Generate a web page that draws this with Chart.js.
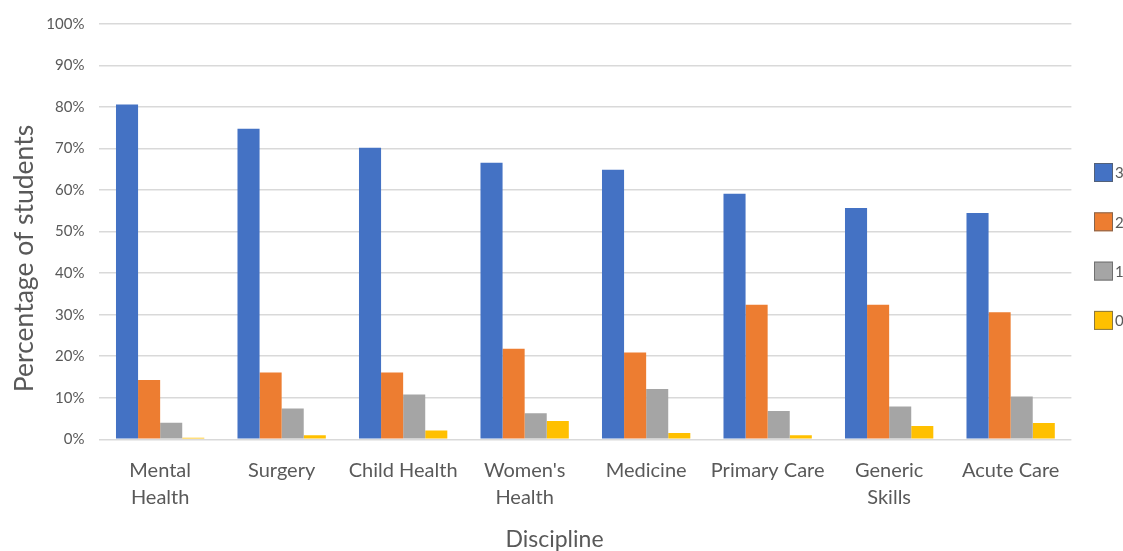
<!DOCTYPE html>
<html>
<head>
<meta charset="utf-8">
<script src="https://cdn.jsdelivr.net/npm/chart.js@4/dist/chart.umd.min.js"></script>
<style>
  html, body { margin: 0; padding: 0; background: #ffffff; overflow: hidden; }
  #wrap { width: 1123px; height: 551px; position: relative; }
</style>
</head>
<body>
<div id="wrap"><canvas id="chart" width="1123" height="551"></canvas></div>
<script>
// Disciplines (multi-line labels wrap as in the axis)
const categories = [
  ['Mental', 'Health'],
  'Surgery',
  'Child Health',
  ["Women's", 'Health'],
  'Medicine',
  'Primary Care',
  ['Generic', 'Skills'],
  'Acute Care'
];

// Percentage of students giving each score
const score3 = [80.6, 74.8, 70.2, 66.6, 64.9, 59.1, 55.7, 54.5];
const score2 = [14.3, 16.1, 16.1, 21.8, 20.9, 32.4, 32.4, 30.6];
const score1 = [4.0, 7.4, 10.8, 6.3, 12.1, 6.8, 7.9, 10.3];
const score0 = [0.4, 1.0, 2.1, 4.4, 1.5, 1.0, 3.2, 3.9];

const seriesLabels = ['3', '2', '1', '0'];
const seriesColors = ['#4472C4', '#ED7D31', '#A5A5A5', '#FFC000'];

const yTicks = [0, 10, 20, 30, 40, 50, 60, 70, 80, 90, 100];

const xTitle = 'Discipline';
const yTitle = 'Percentage of students';

const FONT = 'Lato, "Open Sans", sans-serif';
const TEXT = '#595959';

// Legend swatches at the right edge plus the two axis titles
const annotations = {
  id: 'annotations',
  afterDraw(chart) {
    const ctx = chart.ctx;
    ctx.save();
    chart.data.datasets.forEach((ds, i) => {
      const x = 1094, y = 163 + i * 49.3, s = 19;
      ctx.fillStyle = ds.backgroundColor;
      ctx.fillRect(x, y, s, s);
      ctx.strokeStyle = 'rgba(90,90,90,0.7)';
      ctx.lineWidth = 1;
      ctx.strokeRect(x + 0.5, y + 0.5, s - 1, s - 1);
      ctx.fillStyle = TEXT;
      ctx.font = '15px ' + FONT;
      ctx.textBaseline = 'middle';
      ctx.textAlign = 'left';
      ctx.fillText(ds.label, x + s + 2, y + s / 2 + 1);
    });

    ctx.fillStyle = TEXT;
    ctx.textAlign = 'center';
    ctx.textBaseline = 'alphabetic';
    ctx.font = '23px ' + FONT;
    ctx.fillText(xTitle, 554.5, 547);

    ctx.translate(33, 258.5);
    ctx.rotate(-Math.PI / 2);
    ctx.font = '26.5px ' + FONT;
    ctx.fillText(yTitle, 0, 0);
    ctx.restore();
  }
};

const datasets = [score3, score2, score1, score0].map((vals, i) => ({
  label: seriesLabels[i],
  data: vals,
  backgroundColor: seriesColors[i],
  borderWidth: 0,
  categoryPercentage: 0.727,
  barPercentage: 1.0
}));

new Chart(document.getElementById('chart'), {
  type: 'bar',
  data: { labels: categories, datasets },
  plugins: [annotations],
  options: {
    responsive: false,
    animation: false,
    devicePixelRatio: 1,
    layout: { padding: { left: 0, right: 51.6, top: 18.7, bottom: 0 } },
    plugins: {
      legend: { display: false },
      tooltip: { enabled: false }
    },
    scales: {
      x: {
        grid: { display: false },
        border: { display: false },
        ticks: {
          color: TEXT,
          font: { family: FONT, size: 20, lineHeight: 1.38 },
          maxRotation: 0,
          autoSkip: false,
          padding: 9
        },
        afterFit(scale) { scale.height = 111.7; }
      },
      y: {
        min: 0,
        max: 100,
        afterBuildTicks(scale) { scale.ticks = yTicks.map(v => ({ value: v })); },
        grid: { color: '#d9d9d9', lineWidth: 1.5, drawTicks: false },
        border: { display: false },
        ticks: {
          color: TEXT,
          font: { family: FONT, size: 15 },
          padding: 15,
          callback: v => v + '%'
        },
        afterFit(scale) { scale.width = 99.4; }
      }
    }
  }
});
</script>
</body>
</html>
